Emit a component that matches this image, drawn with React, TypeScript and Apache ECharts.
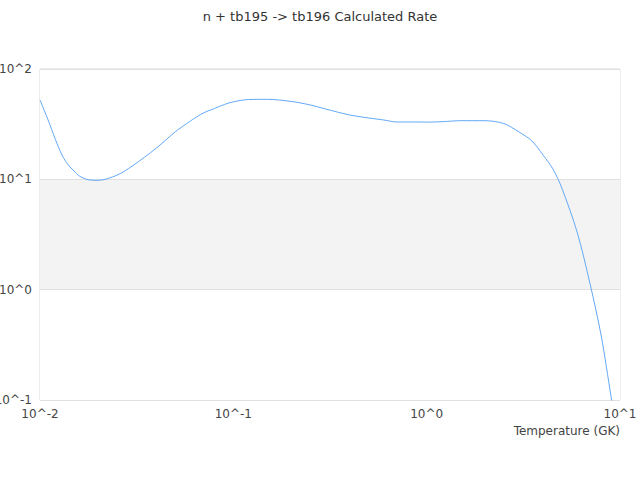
import React, { useEffect, useRef } from 'react';
import * as echarts from 'echarts';

// temperatures in GK and the calculated rate
const temperatures = [
	0.01, 0.011, 0.012, 0.013, 0.014, 0.015, 0.016, 0.018, 0.02, 0.025, 0.03, 0.04, 0.05, 0.06, 0.07,
	0.08, 0.09, 0.1, 0.12, 0.15, 0.2, 0.25, 0.3, 0.4, 0.5, 0.6, 0.7, 0.8, 0.9, 1, 1.2, 1.5, 2, 2.5, 3,
	3.5, 4, 4.5, 5, 6, 7, 8, 9, 10,
];
const rates = [
	52.4, 34.7, 23.1, 16.6, 13.5, 11.9, 10.7, 9.87, 9.8, 10.9, 13.2, 19.2, 26.9, 33.8, 39.9, 43.9, 47.7,
	50.4, 52.9, 53.1, 50.8, 47.2, 43.4, 38.3, 36.0, 34.5, 33.1, 33.1, 33.1, 33.0, 33.3, 34.0, 34.0, 32.1,
	26.9, 22.3, 16.6, 12.4, 8.35, 3.33, 1.13, 0.38, 0.106, 0.035,
];

const titleText = 'n + tb195 -> tb196 Calculated Rate';
const xAxisName = 'Temperature (GK)';

const powerLabel = (value: number) => '10^' + Math.round(Math.log10(value));

const App: React.FC = () => {
	const chartContainer = useRef<HTMLDivElement | null>(null);

	useEffect(() => {
		document.body.style.margin = '0';
		if (!chartContainer.current) return;
		const chart = echarts.init(chartContainer.current, null, { renderer: 'svg' });

		const option = {
			animation: false,
			textStyle: { fontFamily: 'DejaVu Sans' },
			title: {
				text: titleText,
				left: 'center',
				top: 5,
				textStyle: { fontSize: 13, fontWeight: 'normal', color: '#333' },
			},
			grid: {
				left: 40,
				right: 20,
				top: 69,
				bottom: 80,
				outerBoundsMode: 'none',
				containLabel: false,
				show: true,
				borderColor: '#ddd',
				borderWidth: 1,
			},
			xAxis: {
				type: 'log',
				logBase: 10,
				min: 0.01,
				max: 10,
				name: xAxisName,
				nameLocation: 'end',
				nameGap: 0,
				nameTextStyle: {
					fontSize: 12,
					color: '#444',
					align: 'right',
					verticalAlign: 'top',
					padding: [25, 0, 0, 0],
				},
				axisLine: { show: false },
				axisTick: { show: false },
				splitLine: { show: false },
				axisLabel: { color: '#444', fontSize: 12, formatter: powerLabel },
			},
			yAxis: {
				type: 'log',
				logBase: 10,
				min: 0.1,
				max: 100,
				axisLine: { show: false },
				axisTick: { show: false },
				splitLine: { show: true, lineStyle: { color: '#e0e0e0' } },
				splitArea: { show: true, areaStyle: { color: ['#ffffff', '#f3f3f3'] } },
				axisLabel: { color: '#444', fontSize: 12, formatter: powerLabel },
			},
			series: [
				{
					type: 'line',
					data: temperatures.map((t, i) => [t, rates[i]]),
					showSymbol: false,
					smooth: 0.3,
					clip: true,
					lineStyle: { color: '#62a8f7', width: 1 },
					itemStyle: { color: '#62a8f7' },
				},
			],
		};

		chart.setOption(option as any);

		return () => {
			chart.dispose();
		};
	}, []);

	return <div ref={chartContainer} style={{ width: '640px', height: '480px' }} />;
};

export default App;
